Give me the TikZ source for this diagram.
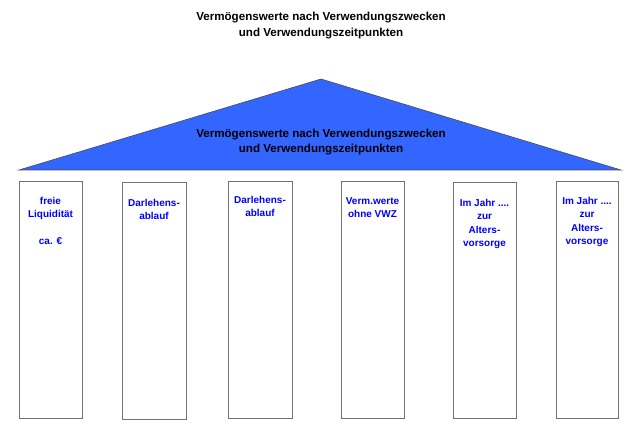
\documentclass[tikz,border=0pt]{standalone}
\usepackage{fontspec}
\setmainfont{Liberation Sans}
\begin{document}
\begin{tikzpicture}[x=1pt,y=-1pt,
  col/.style={draw=black!55,line width=0.9pt,fill=white},
  coltext/.style={anchor=north,align=center,text=blue,font=\bfseries\fontsize{10}{13.3}\selectfont,inner sep=0pt},
  titletext/.style={align=center,font=\bfseries\fontsize{11.6}{15.5}\selectfont,inner sep=0pt}]
\useasboundingbox (0,0) rectangle (640,430);
\node[titletext] (title) at (321,25.5) {Vermögenswerte nach Verwendungszwecken\\und Verwendungszeitpunkten};
\draw[fill={rgb,255:red,51;green,102;blue,255},draw=black!70,line width=0.6pt] (19,170) -- (321,79) -- (621,170) -- cycle;
\node[titletext] (roof) at (321,142) {Vermögenswerte nach Verwendungszwecken\\und Verwendungszeitpunkten};
\path[col] (19,181.5) rectangle (82,418) node[pos=0.5] (c1) {};
\path[col] (122,182.5) rectangle (186,419) node[pos=0.5] (c2) {};
\path[col] (228.5,181.5) rectangle (292,418) node[pos=0.5] (c3) {};
\path[col] (341,181.5) rectangle (404,418) node[pos=0.5] (c4) {};
\path[col] (453,182) rectangle (516,418.5) node[pos=0.5] (c5) {};
\path[col] (556,181.5) rectangle (618,418) node[pos=0.5] (c6) {};
\node[coltext] (t1) at (50.5,197) {freie\\Liquidität\\[13.3pt]ca. €};
\node[coltext] (t2) at (154,199) {Darlehens-\\ablauf};
\node[coltext] (t3) at (260,196) {Darlehens-\\ablauf};
\node[coltext] (t4) at (372.5,197) {Verm.werte\\ohne VWZ};
\node[coltext] (t5) at (484.5,199) {Im Jahr ....\\zur\\Alters-\\vorsorge};
\node[coltext] (t6) at (587,197) {Im Jahr ....\\zur\\Alters-\\vorsorge};
\end{tikzpicture}
\end{document}
